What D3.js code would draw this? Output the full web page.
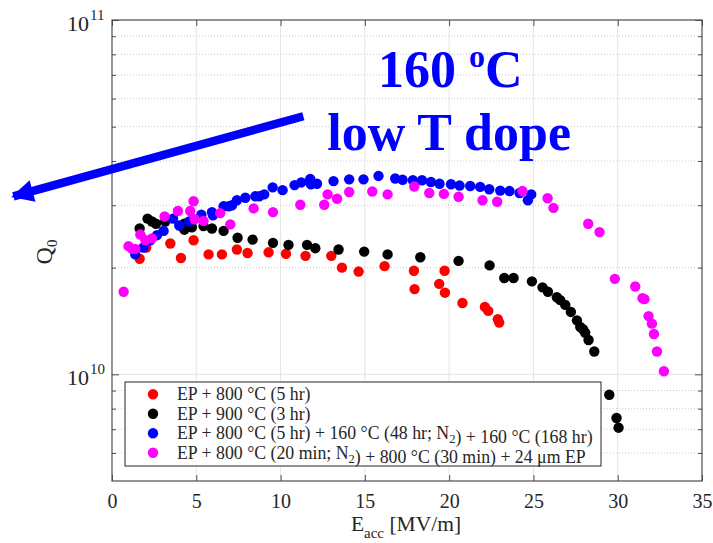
<!DOCTYPE html>
<html>
<head>
<meta charset="utf-8">
<script src="https://cdn.jsdelivr.net/npm/d3@7"></script>
<style>
  body { margin: 0; background: #fff; }
  svg text { font-family: "Liberation Serif", "Times New Roman", serif; }
</style>
</head>
<body>
<svg id="chart" viewBox="0 0 713 543" width="713" height="543"></svg>
<script>
// data: [E_acc (MV/m), Q0]
const ep800_5hr = [
  [1.64,2.12e10],[2.03,2.28e10],[3.46,2.34e10],[4.09,2.13e10],[4.84,2.39e10],[5.73,2.18e10],
  [6.52,2.18e10],[7.41,2.25e10],[8.04,2.20e10],[9.29,2.21e10],[10.32,2.19e10],[11.48,2.16e10],
  [13.01,2.16e10],[13.64,2.00e10],[14.63,1.95e10],[16.17,2.02e10],[17.91,1.96e10],[17.95,1.74e10],
  [19.41,1.80e10],[19.73,1.96e10],[19.75,1.70e10],[20.79,1.59e10],[22.12,1.55e10],[22.32,1.51e10],
  [22.89,1.43e10],[22.97,1.40e10]
];
const ep900_3hr = [
  [1.64,2.58e10],[2.11,2.75e10],[2.37,2.70e10],[2.61,2.66e10],[3.16,2.70e10],[4.29,2.66e10],
  [4.29,2.56e10],[4.74,2.60e10],[5.43,2.62e10],[5.93,2.58e10],[6.62,2.54e10],[7.45,2.43e10],
  [8.34,2.40e10],[9.55,2.35e10],[10.47,2.32e10],[11.57,2.32e10],[12.06,2.27e10],[13.44,2.25e10],
  [14.96,2.22e10],[16.35,2.18e10],[18.29,2.14e10],[20.56,2.09e10],[22.40,2.03e10],[23.27,1.87e10],
  [23.82,1.87e10],[24.91,1.83e10],[25.54,1.76e10],[25.86,1.71e10],[26.39,1.65e10],[26.59,1.62e10],
  [26.89,1.57e10],[27.22,1.50e10],[27.58,1.42e10],[27.78,1.36e10],[27.94,1.34e10],[28.07,1.31e10],
  [28.27,1.25e10],[28.61,1.16e10],[29.50,8.76e9],[29.93,7.53e9],[30.05,7.07e9]
];
const ep800_lowT = [
  [1.38,2.18e10],[1.87,2.28e10],[2.27,2.39e10],[2.67,2.47e10],[3.06,2.54e10],[3.62,2.75e10],
  [3.99,2.63e10],[4.58,2.70e10],[5.30,2.82e10],[5.93,2.87e10],[5.99,2.81e10],[6.62,2.98e10],
  [6.92,2.98e10],[7.12,3.00e10],[7.41,3.10e10],[7.91,3.15e10],[8.50,3.18e10],[8.74,3.18e10],
  [9.03,3.22e10],[9.53,3.37e10],[10.12,3.31e10],[10.83,3.42e10],[11.23,3.48e10],[11.76,3.56e10],
  [11.80,3.44e10],[12.16,3.45e10],[13.14,3.51e10],[14.07,3.55e10],[14.92,3.55e10],[15.81,3.63e10],
  [16.80,3.57e10],[17.24,3.54e10],[17.85,3.53e10],[18.39,3.53e10],[18.92,3.49e10],[19.43,3.45e10],
  [20.11,3.44e10],[20.62,3.41e10],[21.25,3.40e10],[21.84,3.38e10],[22.38,3.33e10],[23.03,3.30e10],
  [23.58,3.29e10],[24.18,3.25e10],[24.67,3.10e10],[24.87,3.22e10]
];
const ep800_20min = [
  [0.69,1.71e10],[0.98,2.30e10],[1.19,2.26e10],[1.38,2.26e10],[1.68,2.48e10],[1.98,2.39e10],
  [2.37,2.42e10],[3.12,2.79e10],[3.91,2.89e10],[4.64,2.89e10],[4.84,3.08e10],[4.90,2.74e10],
  [5.43,2.71e10],[6.42,2.85e10],[7.02,2.65e10],[8.40,2.94e10],[9.55,2.87e10],[11.17,3.01e10],
  [12.59,3.01e10],[12.79,3.22e10],[13.35,3.13e10],[14.07,3.27e10],[15.44,3.28e10],[16.35,3.22e10],
  [17.93,3.39e10],[18.82,3.25e10],[19.69,3.23e10],[20.56,3.17e10],[21.98,3.10e10],[22.85,3.07e10],
  [24.35,3.29e10],[25.84,3.14e10],[26.19,2.95e10],[28.25,2.66e10],[28.92,2.52e10],[29.83,1.86e10],
  [31.04,1.77e10],[31.47,1.64e10],[31.59,1.63e10],[31.83,1.46e10],[32.03,1.39e10],[32.15,1.30e10],
  [32.33,1.16e10],[32.74,1.02e10]
];
const seriesColors = ["#ff0000", "#000000", "#0000ff", "#ff00ff"];
const legendLabels = [
  "EP + 800 °C (5 hr)",
  "EP + 900 °C (3 hr)",
  "EP + 800 °C (5 hr) + 160 °C (48 hr; N_2) + 160 °C (168 hr)",
  "EP + 800 °C (20 min; N_2) + 800 °C (30 min) + 24 μm EP"
];
const xTicks = [0, 5, 10, 15, 20, 25, 30, 35];
const yMajor = [1e10, 1e11];
const yMinor = [6e9, 7e9, 8e9, 9e9, 2e10, 3e10, 4e10, 5e10, 6e10, 7e10, 8e10, 9e10];
// annotation arrow, in data units: [start, tip]
const arrowPts = [[11.35, 5.35e10], [-5.85, 3.18e10]];
const noteLines = [["160 ", "o", "C"], ["low T dope"]];
const notePos = [[20.07, 6.47e10], [20.0, 4.29e10]];

const svg = d3.select("#chart");
const pLeft = 112, pRight = 702, pTop = 20, pBottom = 481;

const x = d3.scaleLinear().domain([0, 35]).range([pLeft, pRight]);
const y = d3.scaleLog().domain([5e9, 1e11]).range([pBottom, pTop]);

// grid
const grid = svg.append("g");
grid.selectAll(".gx")
  .data(xTicks.slice(1, -1))
  .enter().append("line")
  .attr("x1", d => x(d)).attr("x2", d => x(d))
  .attr("y1", pTop).attr("y2", pBottom)
  .attr("stroke", "#e4e4e4").attr("stroke-width", 1);
grid.selectAll(".gmin")
  .data(yMinor)
  .enter().append("line")
  .attr("x1", pLeft).attr("x2", pRight)
  .attr("y1", d => y(d)).attr("y2", d => y(d))
  .attr("stroke", "#cccccc").attr("stroke-width", 1)
  .attr("stroke-dasharray", "1,2");
grid.append("line")
  .attr("x1", pLeft).attr("x2", pRight)
  .attr("y1", y(1e10)).attr("y2", y(1e10))
  .attr("stroke", "#e4e4e4");

// axes (ticks point inward, MATLAB style)
const axisColor = "#4d4d4d";
function styleAxis(g) {
  g.select(".domain").remove();
  g.selectAll("line").attr("stroke", axisColor);
}
svg.append("g").attr("transform", `translate(0,${pBottom})`)
  .call(d3.axisBottom(x).tickValues(xTicks).tickSize(-6).tickPadding(13).tickFormat(d3.format("d")))
  .call(styleAxis)
  .selectAll("text").attr("font-size", 20).attr("fill", "#262626")
  .style("font-family", "Liberation Serif");
svg.append("g").attr("transform", `translate(0,${pTop})`)
  .call(d3.axisTop(x).tickValues(xTicks).tickSize(-6).tickFormat(""))
  .call(styleAxis);
svg.append("g").attr("transform", `translate(${pLeft},0)`)
  .call(d3.axisLeft(y).tickValues(yMajor).tickSize(-7).tickFormat(""))
  .call(styleAxis);
svg.append("g").attr("transform", `translate(${pLeft},0)`)
  .call(d3.axisLeft(y).tickValues(yMinor).tickSize(-4).tickFormat(""))
  .call(styleAxis);
svg.append("g").attr("transform", `translate(${pRight},0)`)
  .call(d3.axisRight(y).tickValues(yMajor).tickSize(-7).tickFormat(""))
  .call(styleAxis);
svg.append("g").attr("transform", `translate(${pRight},0)`)
  .call(d3.axisRight(y).tickValues(yMinor).tickSize(-4).tickFormat(""))
  .call(styleAxis);

svg.append("rect")
  .attr("x", pLeft).attr("y", pTop)
  .attr("width", pRight - pLeft).attr("height", pBottom - pTop)
  .attr("fill", "none").attr("stroke", axisColor).attr("stroke-width", 1.2);

// y tick labels 10^n
const yl = svg.append("g").selectAll("text")
  .data(yMajor).enter().append("text")
  .attr("x", 67).attr("y", d => y(d) + 10.5)
  .attr("fill", "#262626")
  .attr("font-size", 22);
yl.append("tspan").text("10");
yl.append("tspan").attr("x", 90)
  .attr("dy", -11).attr("font-size", 15)
  .text(d => Math.round(Math.log10(d)));

// axis titles
const ytitle = svg.append("text")
  .attr("transform", "translate(52,252) rotate(-90)")
  .attr("text-anchor", "middle")
  .attr("font-size", 24).attr("fill", "#262626");
ytitle.append("tspan").text("Q");
ytitle.append("tspan").attr("dy", 5).attr("font-size", 15).text("0");

const xtitle = svg.append("text")
  .attr("x", 406).attr("y", 531)
  .attr("text-anchor", "middle")
  .attr("font-size", 21.5).attr("fill", "#262626");
xtitle.append("tspan").text("E");
xtitle.append("tspan").attr("dy", 7).attr("font-size", 15).text("acc");
xtitle.append("tspan").attr("dy", -7).text(" [MV/m]");

// points
const allSeries = [ep800_5hr, ep900_3hr, ep800_lowT, ep800_20min];
allSeries.forEach((s, i) => {
  svg.append("g").selectAll("circle")
    .data(s).enter().append("circle")
    .attr("cx", d => x(d[0]))
    .attr("cy", d => y(d[1]))
    .attr("r", 5.2)
    .attr("fill", seriesColors[i]);
});

// annotation
const defs = svg.append("defs");
defs.append("marker")
  .attr("id", "head").attr("viewBox", "0 0 10 10")
  .attr("refX", 9).attr("refY", 5)
  .attr("markerWidth", 3.1).attr("markerHeight", 2.6)
  .attr("markerUnits", "strokeWidth")
  .attr("orient", "auto")
  .append("path").attr("d", "M0,0 L10,5 L0,10 z").attr("fill", "#0000ff");
svg.append("line")
  .attr("x1", x(arrowPts[0][0])).attr("y1", y(arrowPts[0][1]))
  .attr("x2", x(arrowPts[1][0])).attr("y2", y(arrowPts[1][1]))
  .attr("stroke", "#0000ff").attr("stroke-width", 8.5)
  .attr("marker-end", "url(#head)");

noteLines.forEach((parts, i) => {
  const t = svg.append("text")
    .attr("x", x(notePos[i][0])).attr("y", y(notePos[i][1]))
    .attr("text-anchor", "middle")
    .attr("font-size", 52).attr("font-weight", "bold")
    .attr("fill", "#0000ff");
  if (parts.length === 3) {
    t.append("tspan").text(parts[0]);
    t.append("tspan").attr("dy", -20).attr("font-size", 32).text(parts[1]);
    t.append("tspan").attr("dy", 20).text(parts[2]);
  } else {
    t.text(parts[0]);
  }
});

// legend
const lg = svg.append("g");
lg.append("rect")
  .attr("x", 125).attr("y", 382).attr("width", 476).attr("height", 84)
  .attr("fill", "#fff").attr("stroke", "#262626").attr("stroke-width", 1);
legendLabels.forEach((lab, i) => {
  const cy = 394.3 + i * 19.5;
  lg.append("circle").attr("cx", 153).attr("cy", cy).attr("r", 5.2).attr("fill", seriesColors[i]);
  const t = lg.append("text")
    .attr("x", 177).attr("y", cy + 5.8)
    .attr("font-size", 17.8).attr("fill", "#262626");
  lab.split(/(_\d)/).forEach(p => {
    if (p.startsWith("_")) {
      t.append("tspan").attr("dy", 4).attr("font-size", 12.5).text(p.slice(1));
      t.append("tspan").attr("dy", -4).text("");
    } else {
      t.append("tspan").text(p);
    }
  });
});
</script>
</body>
</html>
